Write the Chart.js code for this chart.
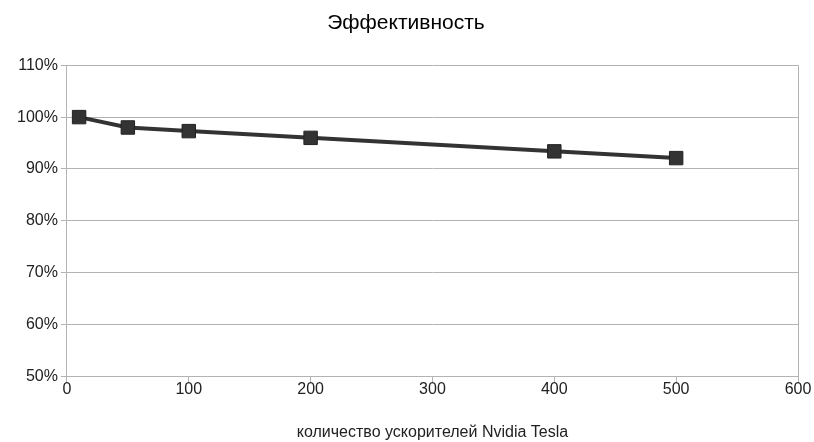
<!DOCTYPE html>
<html>
<head>
<meta charset="utf-8">
<script src="https://cdn.jsdelivr.net/npm/chart.js@4/dist/chart.umd.min.js"></script>
<style>
  html, body { margin: 0; padding: 0; background: #fff; }
  #wrap { width: 814px; height: 442px; }
</style>
</head>
<body>
<div id="wrap"><canvas id="effChart" width="814" height="442"></canvas></div>
<script>
const accelerators = [10, 50, 100, 200, 400, 500];
const efficiency = [1.000, 0.980, 0.973, 0.960, 0.934, 0.921];
const chartTitle = "Эффективность";
const xTitle = "количество ускорителей Nvidia Tesla";

const GRID = "#b3b3b3";
const INK = "#333333";

const ctx = document.getElementById("effChart").getContext("2d");
new Chart(ctx, {
    type: "scatter",
    data: {
        datasets: [{
            label: chartTitle,
            data: accelerators.map((x, i) => ({ x, y: efficiency[i] })),
            showLine: true,
            borderColor: INK,
            backgroundColor: INK,
            borderWidth: 4,
            pointStyle: "rect",
            pointRadius: 9.5,
            pointBorderColor: "#222",
            pointBorderWidth: 1,
            tension: 0,
        }],
    },
    options: {
        responsive: false,
        animation: false,
        layout: { padding: { left: 14, right: 16, top: 9, bottom: 0 } },
        plugins: {
            legend: { display: false },
            tooltip: { enabled: false },
            title: {
                display: true,
                text: chartTitle,
                color: "#000",
                font: { family: "Liberation Sans", size: 21, weight: "normal" },
                padding: { top: 2, bottom: 29 },
            },
        },
        scales: {
            x: {
                type: "linear",
                min: 0,
                max: 600,
                ticks: { stepSize: 100, color: "#222", font: { family: "Liberation Sans", size: 16 }, padding: -3 },
                grid: {
                    color: c => (c.tick && c.tick.value === 600 ? GRID : "transparent"),
                    tickColor: GRID,
                    tickLength: 6,
                },
                border: { display: true, color: GRID },
                title: {
                    display: true,
                    text: xTitle,
                    color: "#222",
                    font: { family: "Liberation Sans", size: 16 },
                    padding: { top: 27, bottom: 0 },
                },
            },
            y: {
                min: 0.5,
                max: 1.1,
                ticks: {
                    stepSize: 0.1,
                    color: "#222",
                    font: { family: "Liberation Sans", size: 16 },
                    padding: 3,
                    callback: v => Math.round(v * 100) + "%",
                },
                grid: { color: GRID, tickColor: GRID, tickLength: 6 },
                border: { display: true, color: GRID },
            },
        },
    },
});
</script>
</body>
</html>
